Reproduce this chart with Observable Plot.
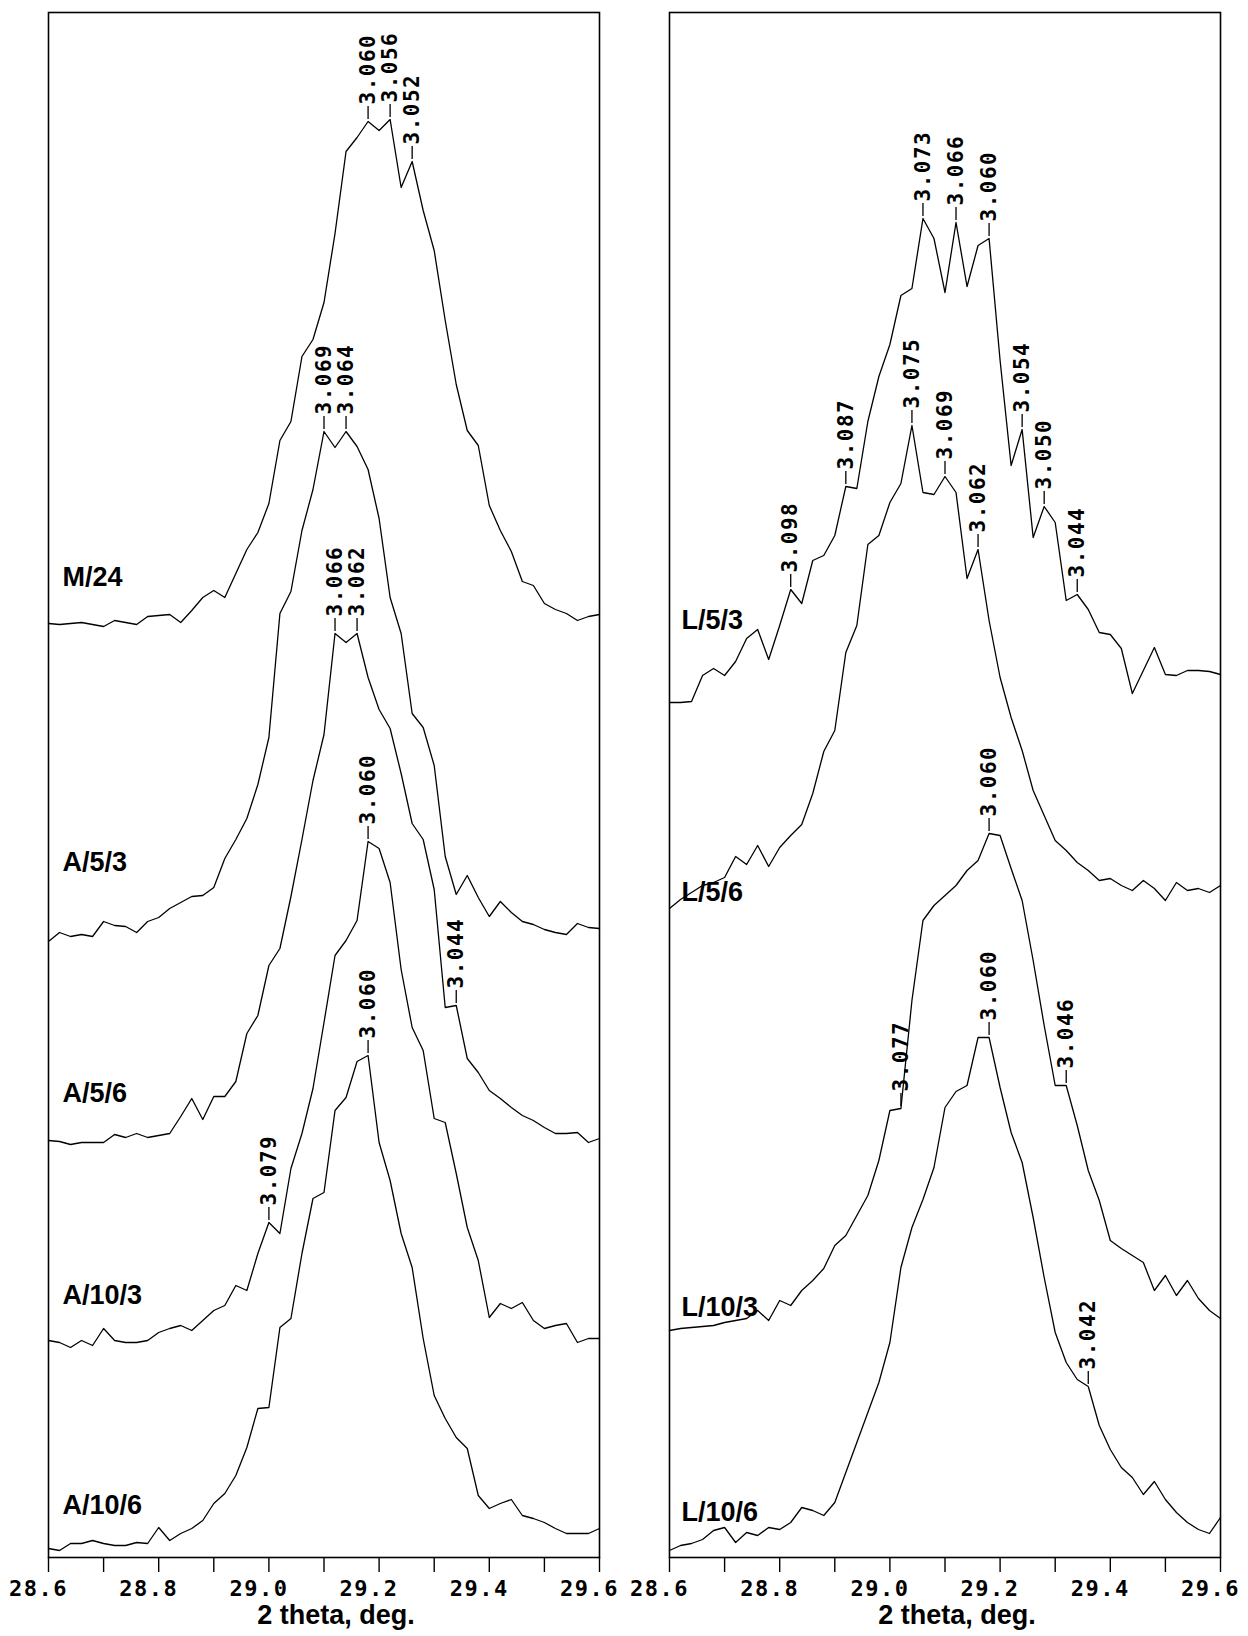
<!DOCTYPE html>
<html><head><meta charset="utf-8">
<script src="https://cdn.jsdelivr.net/npm/d3@7"></script>
<script src="https://cdn.jsdelivr.net/npm/@observablehq/plot@0.6"></script>
<style>
html,body{margin:0;padding:0;background:#fff;}
#chart{display:flex;width:1248px;height:1636px;overflow:hidden;}
</style></head><body><div id="chart"></div>
<script>
// 2-theta sampling grid (deg)
const thetaStart = 28.6, thetaStep = 0.02, nPoints = 51;
const theta = d3.range(nPoints).map(i => +(thetaStart + i * thetaStep).toFixed(2));

// tick values
const minorTicks = [28.6, 28.7, 28.8, 28.9, 29.0, 29.1, 29.2, 29.3, 29.4, 29.5, 29.6];
const majorTicks = [28.6, 28.8, 29.0, 29.2, 29.4, 29.6];

// sample names per panel
const leftSamples = ["M/24", "A/5/3", "A/5/6", "A/10/3", "A/10/6"];
const rightSamples = ["L/5/3", "L/5/6", "L/10/3", "L/10/6"];

// stacked intensities (arbitrary units, offset included)
const M24 = [934,933,934,935,933,931,937,935,933,941,942,943,935,947,960,967,960,984,1008,1025,1054,1117,1136,1201,1218,1255,1324,1406,1420,1436,1427,1438,1370,1396,1347,1307,1237,1173,1127,1112,1052,1027,1006,976,972,954,948,944,937,941,943];
const A53 = [616,625,621,623,621,636,632,631,625,636,640,649,655,661,662,670,699,718,739,773,820,944,966,1027,1068,1126,1110,1126,1111,1088,1039,960,924,844,830,792,701,663,682,660,641,656,645,636,633,628,625,623,634,630,629];
const A56 = [417,416,413,415,415,415,423,420,424,420,422,424,441,459,438,461,461,476,524,542,592,609,661,718,777,823,924,915,924,880,848,829,784,734,718,668,550,552,499,485,467,459,450,442,437,430,424,424,425,415,419];
const A103 = [217,215,210,217,212,229,217,215,215,217,225,229,232,227,237,247,252,272,267,304,335,324,389,424,469,535,602,617,637,716,709,675,588,530,507,439,435,384,330,297,240,254,249,255,237,229,232,234,215,219,219];
const A106 = [9,7,14,14,17,14,12,12,15,14,30,17,24,29,37,54,64,82,110,149,150,230,239,304,359,365,447,460,496,502,415,377,324,290,219,162,139,120,109,62,49,54,58,42,39,35,29,24,24,24,29];
const L53 = [855,855,856,882,889,882,896,919,928,898,932,968,954,997,1002,1022,1071,1069,1136,1181,1213,1262,1269,1339,1319,1265,1335,1271,1312,1319,1197,1092,1128,1020,1051,1035,957,963,948,925,923,909,864,887,910,883,882,887,887,886,883];
const L56 = [649,658,665,672,675,680,701,693,712,691,710,722,733,764,806,827,905,932,1013,1022,1055,1074,1132,1065,1063,1081,1065,979,1008,937,880,840,807,767,742,717,707,695,687,677,679,672,667,677,669,657,675,667,669,665,672];
const L103 = [227,229,230,231,232,235,237,239,247,237,257,252,267,277,289,312,322,342,362,397,447,449,557,637,652,662,672,687,697,724,722,689,657,597,532,472,472,432,387,357,317,309,302,295,267,282,262,277,259,247,239];
const L106 = [7,12,14,18,27,30,15,25,22,30,28,35,50,47,42,55,85,115,145,175,215,290,330,358,390,450,466,472,520,520,470,425,395,340,280,225,195,178,171,132,108,90,80,63,76,58,45,35,28,24,40];

const series = {"M/24": M24, "A/5/3": A53, "A/5/6": A56, "A/10/3": A103, "A/10/6": A106,
                "L/5/3": L53, "L/5/6": L56, "L/10/3": L103, "L/10/6": L106};

// vertical level of each sample name (intensity units)
const labelLevels = {"M/24": 980, "A/5/3": 695, "A/5/6": 464, "A/10/3": 262, "A/10/6": 52,
                     "L/5/3": 937, "L/5/6": 665, "L/10/3": 250, "L/10/6": 45};

// marked reflections: sample, d-spacing (Å), 2-theta of the marked point
const peakSamples = ["M/24","M/24","M/24","A/5/3","A/5/3","A/5/6","A/5/6","A/5/6","A/10/3","A/10/3","A/10/6",
  "L/5/3","L/5/3","L/5/3","L/5/3","L/5/3","L/5/3","L/5/3","L/5/3","L/5/6","L/5/6","L/5/6","L/10/3","L/10/3","L/10/3","L/10/6","L/10/6"];
const peakD = ["3.060","3.056","3.052","3.069","3.064","3.066","3.062","3.044","3.079","3.060","3.060",
  "3.098","3.087","3.073","3.066","3.060","3.054","3.050","3.044","3.075","3.069","3.062","3.077","3.060","3.046","3.060","3.042"];
const peakTheta = [29.18,29.22,29.26,29.10,29.14,29.12,29.16,29.34,29.00,29.18,29.18,
  28.82,28.92,29.06,29.12,29.18,29.24,29.28,29.34,29.04,29.10,29.16,29.02,29.18,29.32,29.18,29.36];

const monoFont = "DejaVu Sans Mono";
const sansFont = "Liberation Sans, Arial, sans-serif";
const yMax = 1545;

function panel(samples, opts) {
  const rows = samples.flatMap(s => series[s].map((v, i) => ({sample: s, theta: theta[i], v})));
  const peaks = peakSamples.map((s, k) => ({sample: s, d: peakD[k], theta: peakTheta[k]}))
    .filter(p => samples.includes(p.sample))
    .map(p => ({...p, v: series[p.sample][theta.indexOf(p.theta)]}));
  const labels = samples.map(s => ({sample: s, v: labelLevels[s]}));
  const svg = Plot.plot({
    width: 624, height: 1636,
    marginTop: 12, marginBottom: 79, marginLeft: opts.marginLeft, marginRight: opts.marginRight,
    x: {domain: [28.6, 29.6]},
    y: {domain: [0, yMax], axis: null},
    style: {background: "#fff", color: "#000"},
    marks: [
      Plot.axisX({ticks: minorTicks, tickSize: 15, tickFormat: () => "", label: null, strokeWidth: 1.4}),
      Plot.text(majorTicks, {x: d => d, frameAnchor: "bottom", dy: 31, dx: -10, text: d => d.toFixed(1),
        fontFamily: monoFont, fontSize: 22, fontWeight: "bold", lineAnchor: "middle", fill: "#000"}),
      Plot.text(["2 theta, deg."], {frameAnchor: "bottom", dx: 12, dy: 58, text: d => d,
        fontFamily: sansFont, fontWeight: "bold", fontSize: 27, lineAnchor: "middle", fill: "#000"}),
      Plot.frame({stroke: "#000", strokeWidth: 1.6}),
      Plot.line(rows, {x: "theta", y: "v", z: "sample", stroke: "#000", strokeWidth: 1.3}),
      Plot.ruleX(peaks, {x: "theta", y1: d => d.v + 2, y2: d => d.v + 15, stroke: "#000", strokeWidth: 1.3}),
      Plot.text(peaks, {x: "theta", y: "v", text: "d", rotate: -90, textAnchor: "start", lineAnchor: "middle",
        dy: -17, fontFamily: monoFont, fontSize: 21, fontWeight: "bold", fill: "#000"}),
      Plot.text(labels, {y: "v", text: "sample", frameAnchor: "left", dx: opts.labelDx, textAnchor: "start",
        lineAnchor: "middle", fontFamily: sansFont, fontWeight: "bold", fontSize: 27, fill: "#000"})
    ]
  });
  d3.select(svg).selectAll("g")
    .filter(function() { return this.getAttribute("font-family") === monoFont; })
    .attr("letter-spacing", "1.5px");
  return svg;
}

const chart = document.getElementById("chart");
chart.appendChild(panel(leftSamples, {marginLeft: 48, marginRight: 25, labelDx: 14}));
chart.appendChild(panel(rightSamples, {marginLeft: 45, marginRight: 28, labelDx: 12}));
</script>
</body></html>
